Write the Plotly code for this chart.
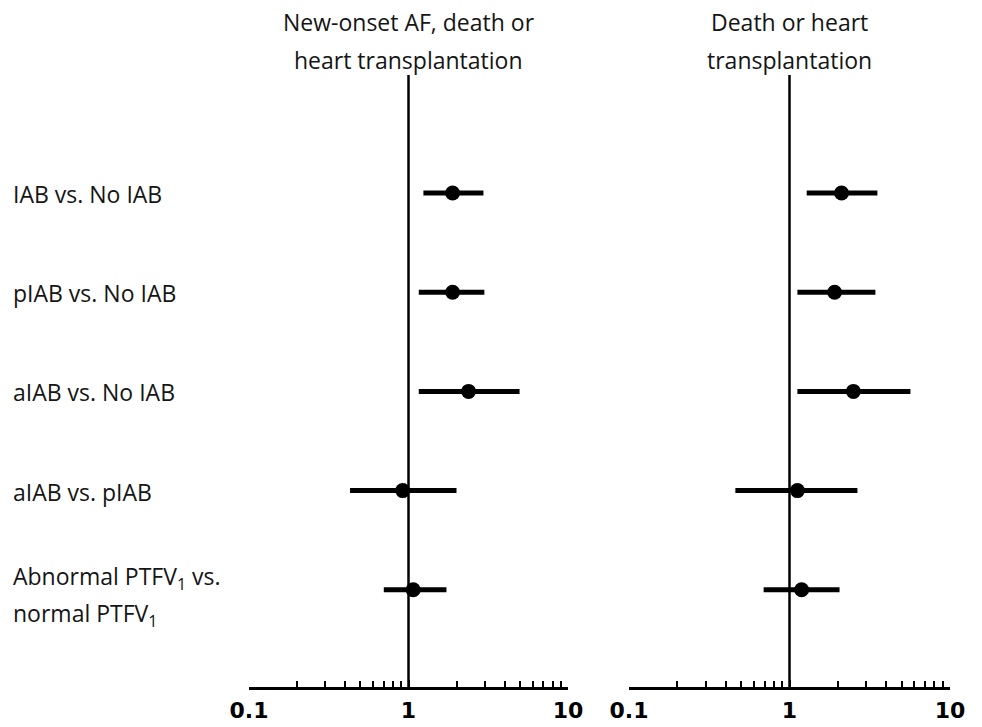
import plotly.graph_objects as go

# ---- data ----
row_labels = [
    ["IAB vs. No IAB"],
    ["pIAB vs. No IAB"],
    ["aIAB vs. No IAB"],
    ["aIAB vs. pIAB"],
    ["Abnormal PTFV<sub>1</sub> vs.", "normal PTFV<sub>1</sub>"],
]
row_pos = [5, 4, 3, 2, 1]

panel_titles = [
    ["New-onset AF, death or", "heart transplantation"],
    ["Death or heart", "transplantation"],
]

hr_af = [1.89, 1.89, 2.38, 0.92, 1.07]
lo_af = [1.24, 1.16, 1.16, 0.43, 0.70]
hi_af = [2.95, 2.99, 4.97, 2.00, 1.73]

hr_dt = [2.11, 1.91, 2.50, 1.12, 1.19]
lo_dt = [1.28, 1.12, 1.12, 0.46, 0.69]
hi_dt = [3.53, 3.43, 5.67, 2.65, 2.05]

tick_vals = [0.1, 1, 10]
tick_text = ["0.1", "1", "10"]
minor_vals = [0.2, 0.3, 0.4, 0.5, 0.6, 0.7, 0.8, 0.9, 2, 3, 4, 5, 6, 7, 8, 9]

W, H = 982, 727
FONT = "Open Sans"
TXT = "#151515"

fig = go.Figure()

panels = [
    (hr_af, lo_af, hi_af, "x", "y"),
    (hr_dt, lo_dt, hi_dt, "x2", "y2"),
]
for hr, lo, hi, xa, ya in panels:
    fig.add_trace(go.Scatter(
        x=hr, y=row_pos, mode="markers", xaxis=xa, yaxis=ya,
        marker=dict(color="black", size=15, symbol="circle"),
        error_x=dict(type="data", symmetric=False,
                     array=[h - m for h, m in zip(hi, hr)],
                     arrayminus=[m - l for m, l in zip(hr, lo)],
                     color="black", thickness=5, width=0),
        showlegend=False, hoverinfo="skip",
    ))

xdomains = [[249 / W, 568 / W], [629 / W, 950 / W]]
ydomain = [(H - 687) / H, (H - 75) / H]
yrange = [0.02, 6.19]

for i, (xn, yn) in enumerate([("xaxis", "yaxis"), ("xaxis2", "yaxis2")]):
    ax = dict(
        type="log", range=[-1, 1], domain=xdomains[i], automargin=False,
        showgrid=False, zeroline=False,
        showline=True, linecolor="black", linewidth=2.5,
        tickmode="array", tickvals=tick_vals, ticktext=tick_text,
        ticks="inside", ticklen=7, tickwidth=2, tickcolor="black",
        ticklabelstandoff=2,
        tickfont=dict(family="DejaVu Sans", size=22, color="black", weight="bold"),
        minor=dict(tickmode="array", tickvals=minor_vals, ticks="inside",
                   ticklen=6, tickwidth=2, tickcolor="black", showgrid=False),
        anchor="y" if i == 0 else "y2",
        fixedrange=True,
    )
    ay = dict(domain=ydomain, range=yrange, visible=False, automargin=False,
              anchor="x" if i == 0 else "x2", fixedrange=True)
    fig.layout[xn] = ax
    fig.layout[yn] = ay
    xref = "x" if i == 0 else "x2"
    fig.add_shape(type="line", xref=xref, yref=("y domain" if i == 0 else "y2 domain"),
                  x0=1, x1=1, y0=0, y1=1, line=dict(color="black", width=2.5), layer="below")
    for k, line in enumerate(panel_titles[i]):
        fig.add_annotation(text=line, xref=xref, yref="paper",
                           x=0, y=1 - (22 + 38 * k) / H, xanchor="center", yanchor="middle",
                           showarrow=False, align="center",
                           font=dict(family=FONT, size=23, color=TXT))

for lines, yp in zip(row_labels, row_pos):
    if len(lines) == 1:
        offs = [-0.01]
    else:
        offs = [0.12, -0.25]
    for line, off in zip(lines, offs):
        fig.add_annotation(text=line, xref="paper", yref="y", x=11 / W,
                           y=yp + off,
                           xanchor="left", yanchor="middle", align="left",
                           showarrow=False, font=dict(family=FONT, size=23, color=TXT))

fig.update_layout(
    width=W, height=H, margin=dict(l=0, r=0, t=0, b=0, autoexpand=False),
    paper_bgcolor="white", plot_bgcolor="white",
)

fig.write_html("out.html")
